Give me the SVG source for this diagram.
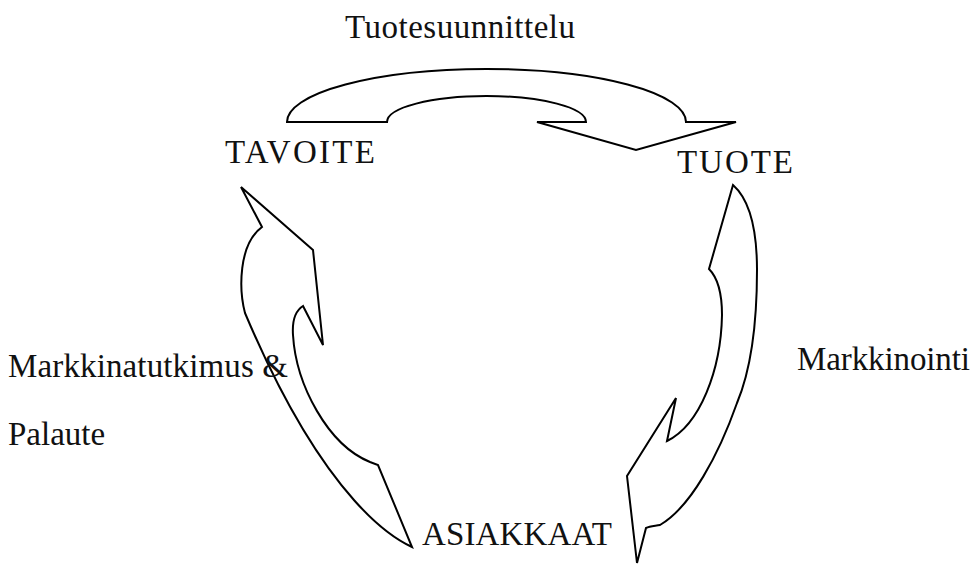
<svg xmlns="http://www.w3.org/2000/svg" width="974" height="565" viewBox="0 0 974 565">
<style>
.lbl{font-family:"Liberation Serif","Times New Roman",serif;font-size:33px;fill:#111}
.arr{fill:#fff;stroke:#000;stroke-width:2;stroke-linejoin:miter}
</style>
<rect width="974" height="565" fill="#fff"/>
<g id="connectors">
<path id="arrow-top" class="arr" d="M287,122 A199.5,53 0 0 1 686,122 L736,122 L636,150 L537,122 L586,122 A99.5,26 0 0 0 387,122 Z"/>
<path id="arrow-left" class="arr" d="M241,187 L313,250 L323,345 L303,306 C295,311 292,320 293,335 C296,385 328,445 370,462 L378,465 L412,547 C399,541 327,507 245,313 C239,290 238,245 262,227 Z"/>
<path id="arrow-right" class="arr" d="M733,185 L709,269 C718,278 722,292 722,315 C721,370 700,425 667,441 L676,398 L627,476 L637,563 L646,528 C650,526 655,526 660,525 C691,507 719,454 737,403 C750,372 757,330 757,270 C757,230 750,200 733,185 Z"/>
</g>
<g id="node-tuotesuunnittelu"><text class="lbl" x="345" y="38" textLength="230">Tuotesuunnittelu</text></g>
<g id="node-tavoite"><text class="lbl" x="225" y="163" textLength="150">TAVOITE</text></g>
<g id="node-tuote"><text class="lbl" x="677" y="173" textLength="116">TUOTE</text></g>
<g id="node-asiakkaat"><text class="lbl" x="422" y="545" textLength="190">ASIAKKAAT</text></g>
<g id="node-markkinatutkimus"><text class="lbl" x="8" y="377" textLength="280">Markkinatutkimus &amp;</text><text class="lbl" x="8" y="445">Palaute</text></g>
<g id="node-markkinointi"><text class="lbl" x="797" y="370" textLength="173">Markkinointi</text></g>
</svg>
